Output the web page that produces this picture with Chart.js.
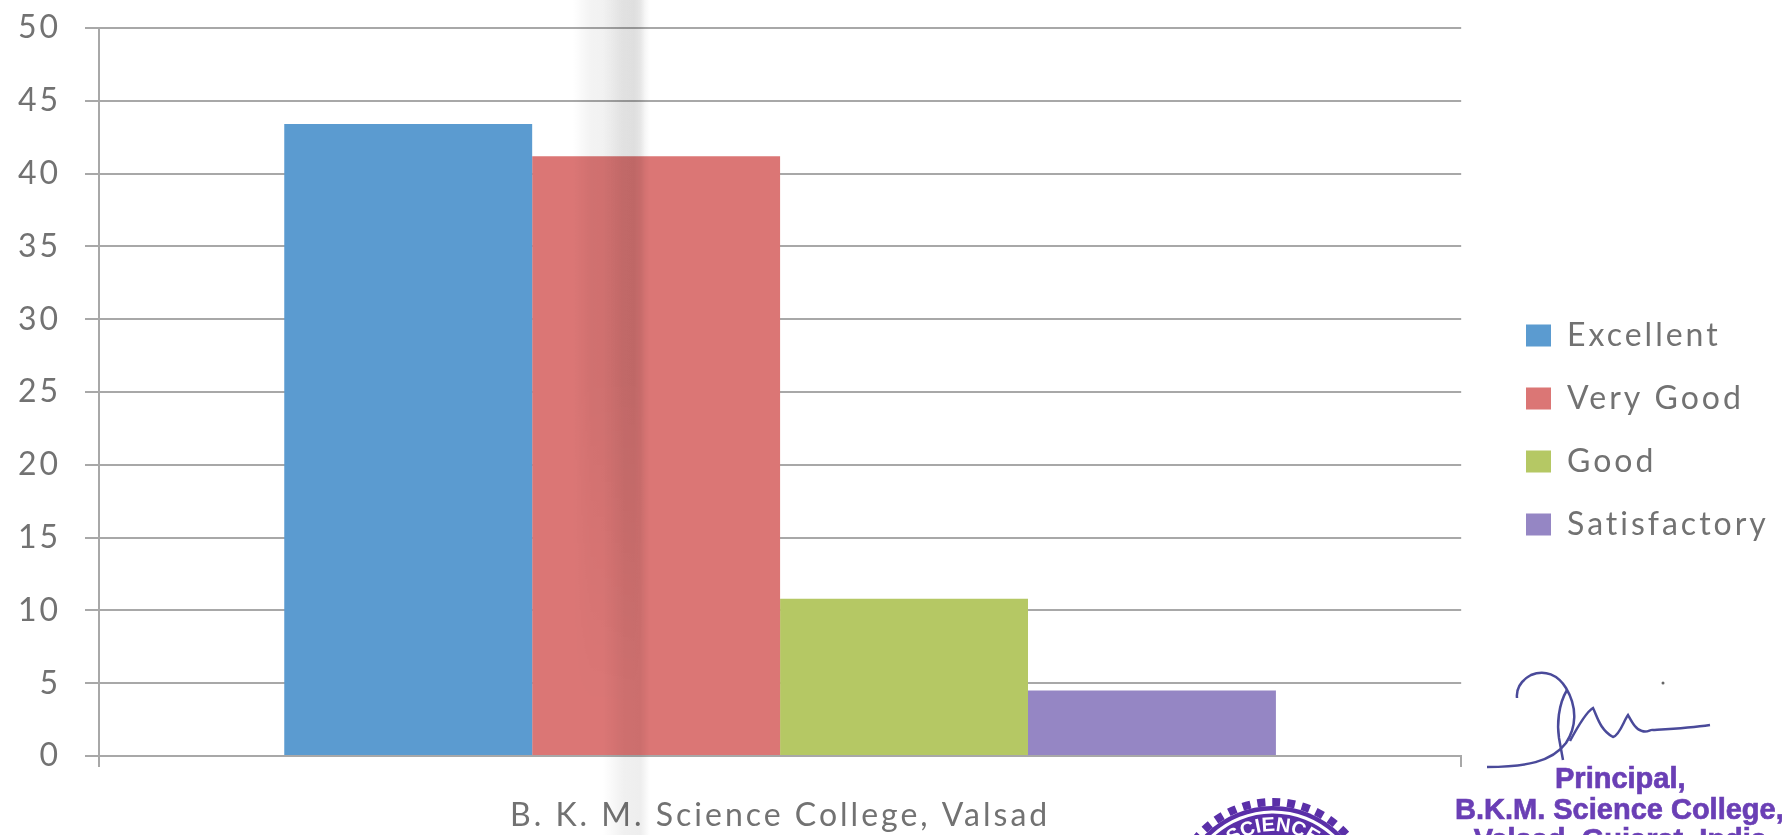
<!DOCTYPE html>
<html>
<head>
<meta charset="utf-8">
<style>
  html, body { margin: 0; padding: 0; background: #fff; overflow: hidden; }
  #wrap { position: relative; width: 1782px; height: 835px; overflow: hidden; }
  .fold { position: absolute; top: 0; height: 835px; mix-blend-mode: multiply; pointer-events: none; }
  #foldWide {
    left: 573px; width: 72px;
    background: linear-gradient(to right, #fff 0%, #f3f3f3 25%, #eeeeee 85%, #fff 100%);
    -webkit-mask-image: linear-gradient(to bottom, #000 0%, #000 45%, transparent 85%);
  }
  #foldNarrow {
    left: 603px; width: 47px;
    background: linear-gradient(to right, #fff 0%, #f0f0f0 45%, #eeeeee 80%, #fff 100%);
  }
  .sign { position: absolute; color: #6a3fb5; font: bold 29px "Liberation Sans", sans-serif; white-space: nowrap; -webkit-text-stroke: 0.7px #6a3fb5; }
  svg { position: absolute; left: 0; top: 0; pointer-events: none; }
</style>
</head>
<body>
<div id="wrap">
  <canvas id="chart" width="1782" height="835"></canvas>
  <div class="fold" id="foldWide"></div>
  <div class="fold" id="foldNarrow"></div>
  <svg width="1782" height="835">
    <!-- 簽名 -->
    <path d="M1517 698 C1516 688 1522 680 1531 675 C1545 669 1558 675 1566 688 C1578 708 1576 728 1566 743 C1552 762 1525 767 1487 767" fill="none" stroke="#4a4a9a" stroke-width="2.5"/>
    <path d="M1567 690 C1558 705 1557 725 1559 738 L1563 760" fill="none" stroke="#4a4a9a" stroke-width="2.5"/>
    <path d="M1570 741 C1577 728 1586 712 1593 708 C1597 716 1600 730 1613 737 C1620 735 1624 720 1628 715 C1632 722 1636 730 1642 731 C1648 733 1650 729 1653 730 C1670 729 1690 728 1710 725" fill="none" stroke="#4a4a9a" stroke-width="2.5"/>
    <circle cx="1663" cy="683" r="1.5" fill="#666"/>
    <!-- 印章 -->
    <circle cx="1273" cy="901" r="99" fill="none" stroke="#5a2fa8" stroke-width="8" stroke-dasharray="8 7"/>
    <circle cx="1273" cy="901" r="95" fill="#5a2fa8"/>
    <circle cx="1273" cy="901" r="89" fill="none" stroke="#fff" stroke-width="3"/>
    <path id="stampArc" d="M1203 901 A70 70 0 0 1 1343 901" fill="none"/>
    <text font-family="Liberation Sans" font-weight="bold" font-size="20" fill="#fff" text-anchor="middle"><textPath href="#stampArc" startOffset="50%">SCIENCE</textPath></text>
  </svg>
  <div class="sign" style="left:1555px;top:762px;">Principal,</div>
  <div class="sign" style="left:1455px;top:793px;">B.K.M. Science College,</div>
  <div class="sign" style="right:15px;top:823px;">Valsad, Gujarat, India</div>
</div>
<script src="https://cdn.jsdelivr.net/npm/chart.js@4"></script>
<script>
// 類別與數值
const categories = ['B. K. M. Science College, Valsad'];
const seriesNames = ['Excellent', 'Very Good', 'Good', 'Satisfactory'];
const seriesValues = [43.4, 41.2, 10.8, 4.5];
const seriesColors = ['#5b9bd0', '#db7675', '#b5c864', '#9586c4'];
const yTicks = [0, 5, 10, 15, 20, 25, 30, 35, 40, 45, 50];

// 原圖文字字距較寬（畫布重設後要再設定一次）
const wideText = {
  id: 'wideText',
  beforeUpdate(chart) { chart.ctx.letterSpacing = '3px'; },
  beforeDraw(chart) { chart.ctx.letterSpacing = '3px'; }
};

// 把圖例移到原圖的位置
const moveLegend = {
  id: 'moveLegend',
  afterLayout(chart) {
    const legend = chart.legend;
    legend.left = 1526 - legend.options.labels.padding;
    legend.right = legend.left + legend.width;
    legend.top = 430 - legend.height / 2;
    legend.bottom = legend.top + legend.height;
  }
};

new Chart(document.getElementById('chart'), {
  type: 'bar',
  plugins: [wideText, moveLegend],
  data: {
    labels: categories,
    datasets: seriesNames.map((name, i) => ({
      label: name,
      data: [seriesValues[i]],
      backgroundColor: seriesColors[i],
      borderWidth: 0,
      barPercentage: 1,
      categoryPercentage: 0.728
    }))
  },
  options: {
    responsive: false,
    animation: false,
    layout: { padding: { top: 28, right: 37, bottom: 0, left: 0 } },
    plugins: {
      tooltip: { enabled: false },
      legend: {
        position: 'right',
        maxWidth: 322,
        labels: {
          boxWidth: 25,
          boxHeight: 22,
          padding: 31,
          color: '#727272',
          font: { family: 'Lato', size: 32 }
        }
      }
    },
    scales: {
      x: {
        border: { display: true, color: '#a8a8a8', width: 2 },
        grid: { display: true, drawOnChartArea: false, drawTicks: true, tickLength: 11, color: '#a8a8a8', lineWidth: 2 },
        ticks: { color: '#727272', font: { family: 'Lato', size: 32 }, padding: 29 },
        afterFit(scale) { scale.height = 79; }
      },
      y: {
        min: 0,
        max: 50,
        border: { display: true, color: '#a8a8a8', width: 2 },
        grid: { color: '#a8a8a8', lineWidth: 2, tickLength: 14 },
        afterBuildTicks(scale) { scale.ticks = yTicks.map(v => ({ value: v })); },
        ticks: { color: '#727272', font: { family: 'Lato', size: 32 }, padding: 24 },
        afterFit(scale) {
          scale.width = 99;
          // tick padding 會把上緣往下推，這裡取消
          scale.paddingTop = 0;
          scale.paddingBottom = 0;
        }
      }
    }
  }
});
</script>
</body>
</html>
